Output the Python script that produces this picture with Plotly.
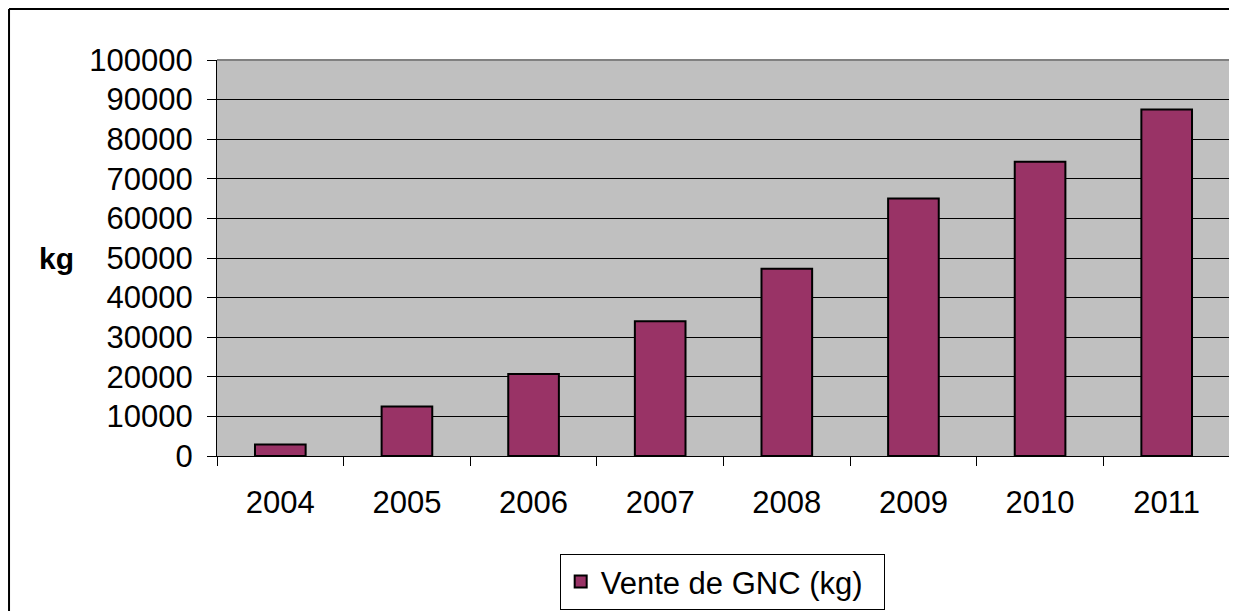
import plotly.graph_objects as go

years = ["2004", "2005", "2006", "2007", "2008", "2009", "2010", "2011"]
sales_kg = [2900, 12500, 20700, 34000, 47300, 65000, 74300, 87500]
series_name = "Vente de GNC (kg)"
y_title = "kg"

FONT = "Liberation Sans, Arial, sans-serif"

fig = go.Figure()
fig.add_trace(go.Bar(
    x=years, y=sales_kg, name=series_name,
    marker=dict(color="#993366", line=dict(color="black", width=2)),
    showlegend=True,
))

# page body has an 8px margin; figure is offset accordingly
W, H = 1229, 611
L, R, T, B = 209, 7, 52, 163

fig.update_layout(
    width=W, height=H,
    margin=dict(l=L, r=R, t=T, b=B),
    paper_bgcolor="white",
    plot_bgcolor="#C0C0C0",
    bargap=0.6,
    font=dict(family=FONT, size=31, color="black"),
    showlegend=True,
    legend=dict(
        orientation="h",
        x=0.4987, xanchor="center",
        y=-0.2473, yanchor="top",
        bordercolor="black", borderwidth=1,
        bgcolor="white",
        font=dict(family=FONT, size=31, color="black"),
        entrywidth=278, entrywidthmode="pixels",
    ),
    xaxis=dict(
        type="category",
        showline=True, linecolor="black", linewidth=1,
        ticks="outside", tickson="boundaries", ticklen=9, tickcolor="black",
        tickfont=dict(family=FONT, size=31, color="black"),
        ticklabelstandoff=19,
        showgrid=False,
    ),
    yaxis=dict(
        range=[0, 100000], dtick=10000, tickformat="d",
        showline=True, linecolor="black", linewidth=1,
        ticks="outside", ticklen=9, tickcolor="black",
        tickfont=dict(family=FONT, size=31, color="black"),
        ticklabelstandoff=8,
        showgrid=True, gridcolor="black", gridwidth=1,
        zeroline=False,
    ),
    shapes=[
        dict(type="line", xref="paper", yref="paper", x0=0, x1=1, y0=1, y1=1,
             line=dict(color="#808080", width=2), layer="above"),
        dict(type="line", xref="paper", yref="paper", x0=1, x1=1, y0=0, y1=1,
             line=dict(color="#808080", width=2), layer="above"),
        dict(type="line", xref="paper", yref="paper", x0=-0.2053, x1=1.2, y0=1.1287, y1=1.1287,
             line=dict(color="black", width=2)),
        dict(type="line", xref="paper", yref="paper", x0=-0.2053, x1=-0.2053, y0=-0.5, y1=1.1287,
             line=dict(color="black", width=2)),
    ],
    annotations=[
        dict(text="<b>" + y_title + "</b>", xref="paper", yref="paper",
             x=-0.158, y=0.5, xanchor="center", yanchor="middle", showarrow=False,
             font=dict(family=FONT, size=30, color="black")),
    ],
)

fig.write_html("out.html")
